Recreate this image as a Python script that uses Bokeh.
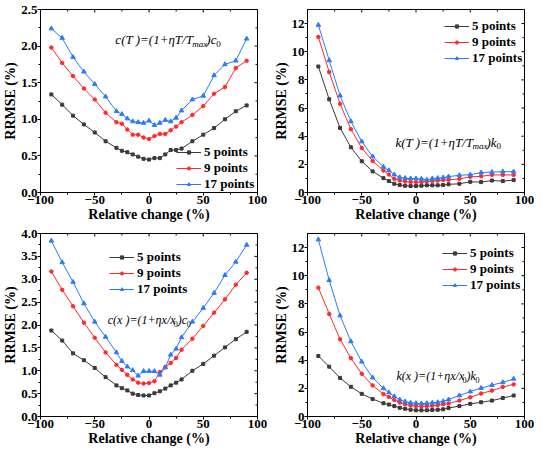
import math
from bokeh.plotting import figure
from bokeh.layouts import gridplot
from bokeh.models import Range1d, Legend, LegendItem, NumeralTickFormatter, FixedTicker
from bokeh.core.properties import value
from bokeh.embed import file_html
from bokeh.resources import INLINE

# ---------------- data ----------------
X = [-90, -80, -70, -60, -50, -40, -30, -25, -20, -15, -10, -5, 0, 5, 10, 15, 20, 25, 30, 40, 50, 60, 70, 80, 90]

SERIES_LABELS = ["5 points", "9 points", "17 points"]

cT_5 = [1.34, 1.20, 1.05, 0.93, 0.82, 0.70, 0.61, 0.57, 0.55, 0.52, 0.49, 0.46, 0.45, 0.47, 0.47, 0.52, 0.58, 0.58, 0.60, 0.70, 0.79, 0.88, 1.00, 1.11, 1.19]
cT_9 = [1.98, 1.77, 1.59, 1.42, 1.27, 1.09, 0.96, 0.94, 0.86, 0.79, 0.79, 0.75, 0.73, 0.77, 0.80, 0.80, 0.85, 0.90, 0.96, 1.06, 1.18, 1.35, 1.44, 1.70, 1.80]
cT_17 = [2.24, 2.11, 1.85, 1.65, 1.48, 1.31, 1.11, 1.07, 1.01, 0.97, 0.96, 0.95, 0.98, 0.92, 0.95, 0.99, 0.97, 1.02, 1.12, 1.27, 1.32, 1.60, 1.75, 1.80, 2.10]

kT_5 = [8.95, 6.62, 4.59, 3.21, 2.22, 1.50, 1.02, 0.81, 0.62, 0.53, 0.48, 0.46, 0.46, 0.48, 0.51, 0.51, 0.51, 0.53, 0.58, 0.62, 0.76, 0.74, 0.85, 0.81, 0.88]
kT_9 = [11.05, 8.56, 6.30, 4.50, 3.16, 2.24, 1.57, 1.27, 0.97, 0.85, 0.78, 0.74, 0.74, 0.74, 0.78, 0.81, 0.85, 0.88, 0.90, 0.97, 1.11, 1.15, 1.25, 1.25, 1.25]
kT_17 = [11.90, 9.39, 6.88, 5.05, 3.62, 2.56, 1.82, 1.57, 1.27, 1.08, 1.02, 0.99, 0.99, 0.97, 0.90, 0.99, 1.02, 1.06, 1.13, 1.22, 1.27, 1.41, 1.45, 1.48, 1.48]

cx_5 = [1.88, 1.66, 1.38, 1.23, 1.06, 0.86, 0.68, 0.62, 0.57, 0.50, 0.47, 0.46, 0.46, 0.51, 0.55, 0.61, 0.68, 0.74, 0.81, 1.00, 1.15, 1.33, 1.51, 1.69, 1.85]
cx_9 = [3.17, 2.77, 2.41, 2.05, 1.72, 1.40, 1.13, 1.02, 0.91, 0.81, 0.74, 0.72, 0.73, 0.77, 0.97, 1.08, 1.17, 1.28, 1.46, 1.70, 1.98, 2.27, 2.56, 2.88, 3.14]
cx_17 = [3.84, 3.37, 2.94, 2.47, 2.07, 1.74, 1.40, 1.21, 1.09, 1.01, 0.89, 0.99, 0.99, 0.99, 0.91, 1.07, 1.35, 1.48, 1.73, 2.07, 2.37, 2.70, 3.09, 3.38, 3.75]

kx_5 = [4.30, 3.54, 2.74, 2.11, 1.61, 1.24, 0.94, 0.85, 0.74, 0.62, 0.55, 0.48, 0.44, 0.44, 0.44, 0.46, 0.48, 0.51, 0.60, 0.74, 0.90, 1.01, 1.13, 1.31, 1.49]
kx_9 = [9.15, 7.29, 5.49, 4.14, 3.03, 2.21, 1.59, 1.38, 1.17, 0.99, 0.87, 0.78, 0.74, 0.71, 0.74, 0.76, 0.80, 0.87, 0.92, 1.13, 1.36, 1.63, 1.84, 2.10, 2.28]
kx_17 = [12.57, 9.68, 7.17, 5.33, 3.89, 2.76, 2.00, 1.70, 1.43, 1.20, 1.06, 0.97, 0.94, 0.92, 0.94, 0.97, 1.01, 1.08, 1.20, 1.49, 1.77, 2.02, 2.23, 2.42, 2.67]

X_TICKS = [-100, -50, 0, 50, 100]
X_MINOR = [-75, -25, 25, 75]
X_TICK_LABELS = ["\u2212100", "\u221250", "0", "50", "100"]
X_LABEL = "Relative change (%)"
Y_LABEL = "RRMSE (%)"

# ---------------- style ----------------
FONT = "Liberation Serif"
COLORS = ["#3a3a3a", "#FF2a2a", "#2a7aFF"]
MARKERS = ["square", "circle", "triangle"]
MSIZES = [3, 3.5, 4.5]
W, H = 267, 224
XMIN, XMAX = -100, 100


def mirror_ticks(p, ymax, yticks, yminor):
    # inward ticks on the top and right edges (outer half falls outside the frame)
    p.scatter(X_TICKS, [ymax] * len(X_TICKS), marker="dash", angle=math.pi / 2,
              size=6, line_color="black", line_width=1)
    p.scatter(X_MINOR, [ymax] * len(X_MINOR), marker="dash", angle=math.pi / 2,
              size=4, line_color="black", line_width=1)
    p.scatter([XMAX] * len(yticks), yticks, marker="dash",
              size=6, line_color="black", line_width=1)
    p.scatter([XMAX] * len(yminor), yminor, marker="dash",
              size=4, line_color="black", line_width=1)


def make_panel(ys, ymax, yticks, yminor, yfmt, legend_loc, ann_xy, ann_parts):
    p = figure(width=W, height=H, output_backend="svg", toolbar_location=None,
               x_range=Range1d(XMIN, XMAX), y_range=Range1d(0, ymax),
               min_border_left=40, min_border_right=10, min_border_top=9, min_border_bottom=5)
    p.xgrid.visible = False
    p.ygrid.visible = False
    p.outline_line_color = "black"
    p.outline_line_width = 1
    p.background_fill_color = "white"

    p.xaxis.ticker = FixedTicker(ticks=X_TICKS, minor_ticks=X_MINOR)
    p.xaxis.major_label_overrides = {t: l for t, l in zip(X_TICKS, X_TICK_LABELS)}
    p.yaxis.ticker = FixedTicker(ticks=yticks, minor_ticks=yminor)
    if yfmt:
        p.yaxis.formatter = NumeralTickFormatter(format=yfmt)
    p.xaxis.axis_label = X_LABEL
    p.yaxis.axis_label = Y_LABEL
    for ax in (p.xaxis, p.yaxis):
        ax.axis_line_color = "black"
        ax.major_tick_line_color = "black"
        ax.minor_tick_line_color = "black"
        ax.major_tick_out = 3
        ax.major_tick_in = 0
        ax.minor_tick_out = 2
        ax.minor_tick_in = 0
        ax.major_label_text_font = FONT
        ax.major_label_text_font_style = "bold"
        ax.major_label_text_font_size = "13px"
        ax.major_label_text_color = "black"
        ax.axis_label_text_font = FONT
        ax.axis_label_text_font_style = "bold"
        ax.axis_label_text_font_size = "14px"
        ax.axis_label_text_color = "black"
        ax.major_label_standoff = 0
        ax.axis_label_standoff = 0

    mirror_ticks(p, ymax, yticks, yminor)

    items = []
    for y, lab, col, mk, ms in zip(ys, SERIES_LABELS, COLORS, MARKERS, MSIZES):
        r1 = p.line(X, y, line_color=col, line_width=1)
        r2 = p.scatter(X, y, marker=mk, size=ms, fill_color=col, line_color=col)
        items.append(LegendItem(label=lab, renderers=[r1, r2]))

    leg = Legend(items=items, location=legend_loc, margin=0,
                 padding=1, spacing=-3, glyph_width=25, glyph_height=8,
                 label_height=12, label_standoff=3,
                 label_text_font=FONT, label_text_font_style="bold",
                 label_text_font_size="13px", label_text_color="black",
                 border_line_alpha=0, background_fill_alpha=0)
    p.add_layout(leg)

    ax_x, ax_y = ann_xy
    for txt, dx, dy, size, style in ann_parts:
        p.text(x=[ax_x], y=[ax_y], text=[txt], x_offset=dx, y_offset=dy,
               text_font=value(FONT), text_font_size=size, text_font_style=style,
               text_baseline="middle", text_align="left", text_color="black")
    return p


ann_T_c = [("c(T )=(1+\u03b7T/T", 0, 0, "13px", "italic"),
           ("max", 77, 4, "9px", "italic"),
           (")c", 91, 0, "13px", "italic"),
           ("0", 101, 4, "9px", "normal")]
ann_T_k = [("k(T )=(1+\u03b7T/T", 0, 0, "13px", "italic"),
           ("max", 77, 4, "9px", "italic"),
           (")k", 91, 0, "13px", "italic"),
           ("0", 101, 4, "9px", "normal")]
ann_x_c = [("c(x )=(1+\u03b7x/x", 0, 0, "12px", "italic"),
           ("0", 66, 4, "8px", "normal"),
           (")c", 70, 0, "12px", "italic"),
           ("0", 79, 4, "8px", "normal")]
ann_x_k = [("k(x )=(1+\u03b7x/x", 0, 0, "12px", "italic"),
           ("0", 66, 4, "8px", "normal"),
           (")k", 70, 0, "12px", "italic"),
           ("0", 79, 4, "8px", "normal")]

p1 = make_panel([cT_5, cT_9, cT_17], 2.5, [0, 0.5, 1.0, 1.5, 2.0, 2.5],
                [0.25, 0.75, 1.25, 1.75, 2.25], "0.0", (135, -1),
                (-31, 2.09), ann_T_c)
p2 = make_panel([kT_5, kT_9, kT_17], 13, [0, 2, 4, 6, 8, 10, 12],
                [1, 3, 5, 7, 9, 11], None, (136, 125),
                (-19, 3.58), ann_T_k)
p3 = make_panel([cx_5, cx_9, cx_17], 4.0, [0, 0.5, 1.0, 1.5, 2.0, 2.5, 3.0, 3.5, 4.0],
                [0.25, 0.75, 1.25, 1.75, 2.25, 2.75, 3.25, 3.75], "0.0", (68, 118),
                (-38, 2.1), ann_x_c)
p4 = make_panel([kx_5, kx_9, kx_17], 13, [0, 2, 4, 6, 8, 10, 12],
                [1, 3, 5, 7, 9, 11], None, (134, 122),
                (-18, 2.85), ann_x_k)

grid = gridplot([[p1, p2], [p3, p4]], toolbar_location=None)
open("out.html", "w").write(file_html(grid, INLINE))
